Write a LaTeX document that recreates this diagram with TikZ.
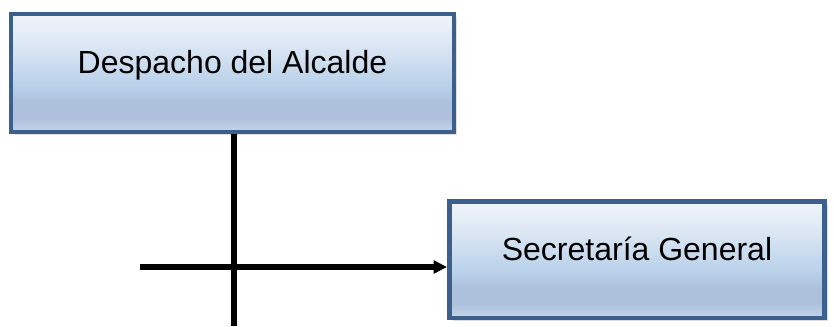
\documentclass[tikz,border=0pt]{standalone}
\usepackage{fontspec}
\setmainfont{Liberation Sans}
\usetikzlibrary{positioning,arrows.meta,shadows,calc}
\definecolor{borde}{HTML}{3C5F8D}
\definecolor{azulA}{HTML}{F0F4FA}
\definecolor{azulB}{HTML}{DCE7F4}
\definecolor{azulC}{HTML}{B7D0E9}
\definecolor{azulD}{HTML}{AEC1DC}
\definecolor{azulE}{HTML}{C3D5EA}
\pgfdeclareverticalshading{degradado}{100bp}{color(0bp)=(azulE); color(25bp)=(azulE);
  color(31bp)=(azulD); color(38bp)=(azulD); color(44bp)=(azulC); color(62bp)=(azulB);
  color(75bp)=(azulA); color(100bp)=(azulA)}
\tikzset{
  caja/.style={draw=borde,line width=3.4pt,shading=degradado,align=center,
    font=\fontsize{24}{28}\selectfont,text height=18pt,text depth=17pt,
    drop shadow={opacity=0.25,shadow xshift=2.5pt,shadow yshift=-2.5pt}},
  linea/.style={line width=3.9pt,color=black},
  flecha/.style={-{Triangle[length=10pt,width=9.5pt]},line width=3.9pt,color=black},
}
\begin{document}
\begin{tikzpicture}[x=0.75pt,y=-0.75pt]
  \useasboundingbox (0,0) rectangle (834,326);
  % cajas
  \node[caja,minimum width=332pt,minimum height=88.5pt] (alcalde) at (232.5,73) {Despacho del Alcalde};
  \node[caja,minimum width=281.6pt,minimum height=87.4pt] (secretaria) at (637,259.5) {Secretaría General};
  % conectores
  \coordinate (fondo) at (234,326);
  \coordinate (inicio) at (140,267);
  \draw[linea] (alcalde.south -| fondo) -- (fondo);
  \draw[flecha] (inicio) -- (inicio -| secretaria.west);
\end{tikzpicture}
\end{document}
